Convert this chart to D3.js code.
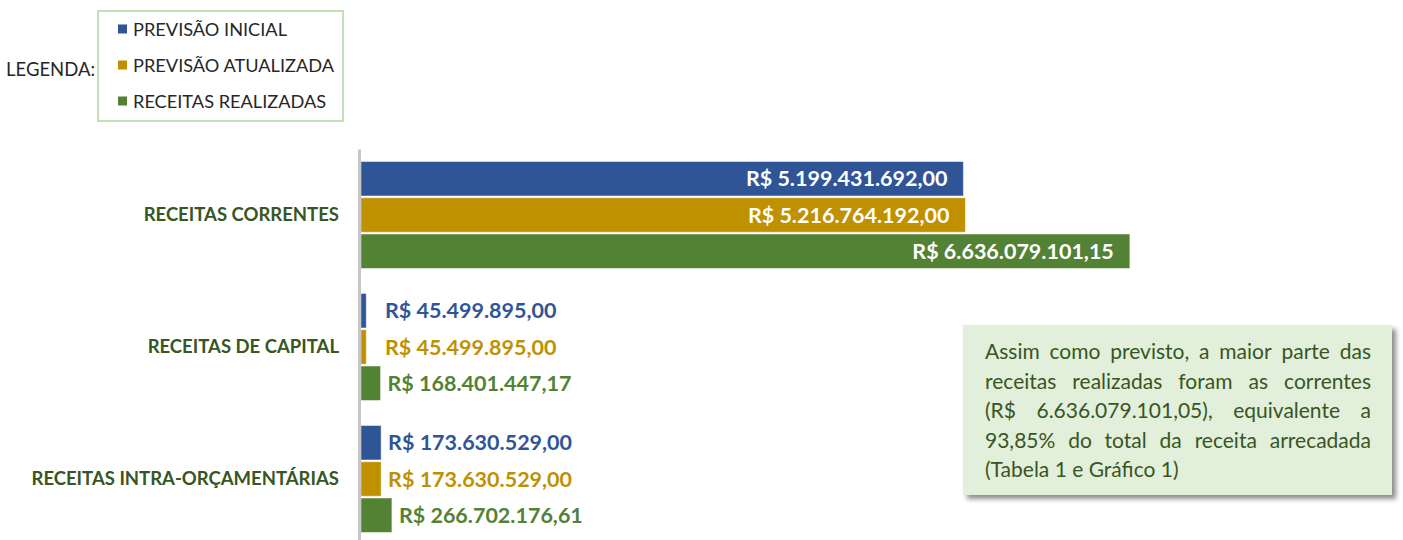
<!DOCTYPE html>
<html>
<head>
<meta charset="utf-8">
<script src="https://cdn.jsdelivr.net/npm/d3@7"></script>
<style>
  body { margin: 0; background: #fff; }
  svg { display: block; font-family: Lato, "Open Sans", sans-serif; }
</style>
</head>
<body>
<svg id="chart"></svg>
<script>
(() => {

  const categories = ['RECEITAS CORRENTES', 'RECEITAS DE CAPITAL', 'RECEITAS INTRA-ORÇAMENTÁRIAS'];
  const seriesNames = ['PREVISÃO INICIAL', 'PREVISÃO ATUALIZADA', 'RECEITAS REALIZADAS'];
  const previsaoInicial = [5199431692.00, 45499895.00, 173630529.00];
  const previsaoAtualizada = [5216764192.00, 45499895.00, 173630529.00];
  const receitasRealizadas = [6636079101.15, 168401447.17, 266702176.61];
  const noteLines = [
    'Assim como previsto, a maior parte das',
    'receitas realizadas foram as correntes',
    '(R$ 6.636.079.101,05), equivalente a',
    '93,85% do total da receita arrecadada',
    '(Tabela 1 e Gráfico 1)'
  ];

  const colors = ['#2f5597', '#bf9000', '#548235'];
  const darkGreen = '#375623';

  const svgWidth = 1403;
  const svgHeight = 540;

  const svg = d3.select('#chart')
    .attr('width', svgWidth)
    .attr('height', svgHeight);

  const brl = d3.formatLocale({
    decimal: ',', thousands: '.', grouping: [3], currency: ['R$ ', '']
  }).format('$,.2f');

  const data = categories.map((cat, i) => ({
    name: cat,
    values: [previsaoInicial[i], previsaoAtualizada[i], receitasRealizadas[i]]
  }));

  const xScale = d3.scaleLinear()
    .domain([0, 7000000000])
    .range([361, 1172]);

  const yScale = d3.scaleBand()
    .domain(categories)
    .range([149, 545])
    .paddingInner(0.19)
    .paddingOuter(0.095);

  const ySub = d3.scaleBand()
    .domain(d3.range(seriesNames.length))
    .range([0, yScale.bandwidth()])
    .paddingInner(0.05);

  // bars
  const group = svg.selectAll('.cat')
    .data(data)
    .enter()
    .append('g')
    .attr('transform', d => `translate(0, ${yScale(d.name)})`);

  group.selectAll('rect')
    .data(d => d.values)
    .enter()
    .append('rect')
    .attr('x', xScale(0))
    .attr('y', (v, i) => ySub(i))
    .attr('width', v => xScale(v) - xScale(0))
    .attr('height', ySub.bandwidth())
    .attr('fill', (v, i) => colors[i])
    .attr('stroke', 'rgba(255,255,255,0.45)')
    .attr('stroke-width', 1);

  group.selectAll('text.val')
    .data(d => d.values)
    .enter()
    .append('text')
    .attr('class', 'val')
    .attr('font-weight', 700)
    .attr('font-size', 21.5)
    .attr('dy', '0.36em')
    .attr('y', (v, i) => ySub(i) + ySub.bandwidth() / 2)
    .each(function (v, i) {
      const inside = xScale(v) - xScale(0) > 300;
      d3.select(this)
        .attr('x', inside ? xScale(v) - 16 : Math.max(xScale(v) + 7, xScale(0) + 24))
        .attr('text-anchor', inside ? 'end' : 'start')
        .attr('fill', inside ? '#fff' : colors[i]);
    })
    .text(v => brl(v));

  // category axis
  const axis = svg.append('g')
    .attr('transform', 'translate(359, 0)')
    .call(d3.axisLeft(yScale).tickSize(0).tickPadding(20));

  axis.select('.domain')
    .attr('stroke', '#c6c6c6')
    .attr('stroke-width', 3);

  axis.selectAll('text')
    .attr('font-family', 'Lato, sans-serif')
    .attr('font-size', 18.5)
    .attr('font-weight', 700)
    .attr('fill', darkGreen);

  // legend
  svg.append('text')
    .attr('x', 6)
    .attr('y', 70)
    .attr('dy', '0.35em')
    .attr('font-size', 18.5)
    .attr('fill', '#262626')
    .text('LEGENDA:');

  svg.append('rect')
    .attr('x', 98).attr('y', 11)
    .attr('width', 245).attr('height', 110)
    .attr('fill', '#fff')
    .attr('stroke', '#c5e0b4')
    .attr('stroke-width', 2);

  const legendItem = svg.selectAll('.legend')
    .data(seriesNames)
    .enter()
    .append('g')
    .attr('transform', (d, i) => `translate(118, ${29 + i * 36})`);

  legendItem.append('rect')
    .attr('x', 0).attr('y', -4.5)
    .attr('width', 9).attr('height', 9)
    .attr('fill', (d, i) => colors[i]);

  legendItem.append('text')
    .attr('x', 15)
    .attr('dy', '0.36em')
    .attr('font-size', 18.2)
    .attr('fill', '#262626')
    .text(d => d);

  // note box
  const defs = svg.append('defs');
  const filter = defs.append('filter')
    .attr('id', 'shadow')
    .attr('x', '-10%').attr('y', '-10%')
    .attr('width', '130%').attr('height', '130%');
  filter.append('feDropShadow')
    .attr('dx', 4).attr('dy', 4)
    .attr('stdDeviation', 2.5)
    .attr('flood-color', '#000')
    .attr('flood-opacity', 0.45);

  svg.append('rect')
    .attr('x', 963).attr('y', 325)
    .attr('width', 429).attr('height', 170)
    .attr('fill', '#e2efda')
    .attr('filter', 'url(#shadow)');

  const noteLeft = 985;
  const noteRight = 1371;
  const noteText = svg.append('g')
    .attr('font-size', 21)
    .attr('fill', darkGreen);

  noteLines.forEach((line, li) => {
    const y = 359 + li * 29.5;
    const last = li === noteLines.length - 1;
    const t = noteText.append('text').attr('x', noteLeft).attr('y', y);
    if (last) {
      t.text(line);
      return;
    }
    const words = line.split(' ');
    const spans = words.map(w => t.append('tspan').text(w));
    const widths = spans.map(s => s.node().getComputedTextLength());
    const gap = (noteRight - noteLeft - d3.sum(widths)) / (words.length - 1);
    let x = noteLeft;
    spans.forEach((s, i) => {
      s.attr('x', x).attr('y', y);
      x += widths[i] + gap;
    });
  });

})();
</script>
</body>
</html>
